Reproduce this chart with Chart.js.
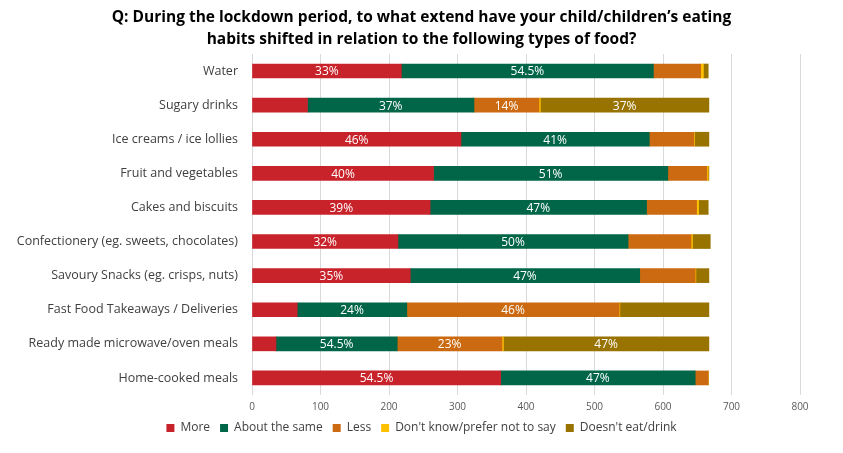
<!DOCTYPE html>
<html>
<head>
<meta charset="utf-8">
<script src="https://cdn.jsdelivr.net/npm/chart.js@4.4.1/dist/chart.umd.min.js"></script>
<style>
  html, body { margin: 0; padding: 0; background: #fff; }
  #wrap { width: 843px; height: 453px; position: relative; }
</style>
</head>
<body>
<div id="wrap"><canvas id="chart"></canvas></div>
<script>
// Food types and response counts
const categories = [
  'Water', 'Sugary drinks', 'Ice creams / ice lollies', 'Fruit and vegetables',
  'Cakes and biscuits', 'Confectionery (eg. sweets, chocolates)',
  'Savoury Snacks (eg. crisps, nuts)', 'Fast Food Takeaways / Deliveries',
  'Ready made microwave/oven meals', 'Home-cooked meals'
];
const seriesNames = ['More', 'About the same', 'Less', "Don't know/prefer not to say", "Doesn't eat/drink"];

const moreValues     = [218,  81, 305, 265, 260, 213, 231,  66,  35, 363];
const sameValues     = [368, 243, 275, 342, 316, 336, 335, 160, 177, 284];
const lessValues     = [ 69,  95,  65,  57,  73,  92,  81, 310, 153,  19];
const dontKnowValues = [  4,   2,   1,   2,   3,   2,   1,   1,   2,   0];
const notEatValues   = [  7, 246,  21,   1,  14,  26,  19, 130, 300,   0];

// Percentage labels printed on the segments
const moreLabels     = ['33%', '', '46%', '40%', '39%', '32%', '35%', '', '', '54.5%'];
const sameLabels     = ['54.5%', '37%', '41%', '51%', '47%', '50%', '47%', '24%', '54.5%', '47%'];
const lessLabels     = ['', '14%', '', '', '', '', '', '46%', '23%', ''];
const dontKnowLabels = ['', '', '', '', '', '', '', '', '', ''];
const notEatLabels   = ['', '37%', '', '', '', '', '', '', '47%', ''];

const COLORS = ['#C8232A', '#006647', '#CB6A10', '#FFC000', '#997300'];
const FONT = "'Open Sans', 'Noto Sans', sans-serif";

const values = [moreValues, sameValues, lessValues, dontKnowValues, notEatValues];
const labels = [moreLabels, sameLabels, lessLabels, dontKnowLabels, notEatLabels];

// draws the percentage text in the middle of each segment
const segmentLabels = {
  id: 'segmentLabels',
  afterDatasetsDraw(chart) {
    const ctx = chart.ctx;
    ctx.save();
    ctx.font = '12px ' + FONT;
    ctx.fillStyle = '#fff';
    ctx.textAlign = 'center';
    ctx.textBaseline = 'middle';
    chart.data.datasets.forEach((ds, i) => {
      chart.getDatasetMeta(i).data.forEach((bar, j) => {
        const txt = ds.segLabels[j];
        if (!txt) return;
        ctx.fillText(txt, (bar.x + bar.base) / 2, bar.y + 1);
      });
    });
    ctx.restore();
  }
};

new Chart(document.getElementById('chart'), {
  type: 'bar',
  data: {
    labels: categories,
    datasets: seriesNames.map((name, i) => ({
      label: name,
      data: values[i],
      segLabels: labels[i],
      backgroundColor: COLORS[i],
      borderWidth: 0,
      barThickness: 14
    }))
  },
  options: {
    indexAxis: 'y',
    responsive: true,
    maintainAspectRatio: false,
    animation: false,
    layout: { padding: { left: 0, right: 0, top: 0, bottom: 9 } },
    plugins: {
      title: {
        display: true,
        text: ['Q: During the lockdown period, to what extend have your child/children’s eating',
               'habits shifted in relation to the following types of food?'],
        font: { family: FONT, size: 15.5, weight: 'bold', lineHeight: 1.45 },
        color: '#000',
        padding: { top: 6, bottom: 3 }
      },
      legend: {
        position: 'bottom',
        labels: { font: { family: FONT, size: 12 }, color: '#404040', boxWidth: 8, boxHeight: 8, padding: 10 }
      },
      tooltip: { enabled: false }
    },
    scales: {
      x: {
        stacked: true,
        min: 0, max: 800,
        ticks: { stepSize: 100, font: { family: FONT, size: 10 }, color: '#595959', padding: 6 },
        grid: { color: '#D9D9D9', drawTicks: false },
        border: { display: false },
        afterFit(scale) { scale.height = 17; }
      },
      y: {
        stacked: true,
        ticks: { font: { family: FONT, size: 12.5 }, color: '#404040', padding: 14, autoSkip: false },
        grid: { display: false, drawTicks: false },
        border: { display: false },
        afterFit(scale) { scale.width = 252; }
      },
      // empty right margin so title and legend stay centred on the page
      yRight: {
        type: 'linear',
        axis: 'y',
        position: 'right',
        ticks: { display: false },
        grid: { display: false, drawTicks: false },
        border: { display: false },
        afterFit(scale) { scale.width = 43; }
      }
    }
  },
  plugins: [segmentLabels]
});
</script>
</body>
</html>
